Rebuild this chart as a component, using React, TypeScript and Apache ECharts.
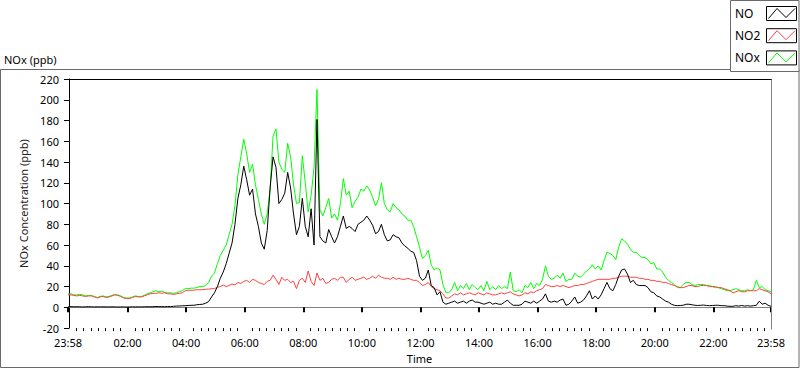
import React, { useEffect, useRef } from "react";
import * as echarts from "echarts";

// Sample times: minutes after midnight, first sample at 23:58 of the previous day, one sample every 6 minutes
const START_MIN = -2;
const STEP_MIN = 6;

// Axis ticks (minutes after midnight)
const MAJOR_TICKS = [-2, 120, 240, 360, 480, 600, 720, 840, 960, 1080, 1200, 1320, 1438];
const MINOR_STEP = 15;
const Y_MIN = -20;
const Y_MAX = 220;
const Y_STEP = 20;

const NO = [
  0.5, 0.7, 0.5, 0.6, 0.5, 0.4, 0.5, 0.6, 0.5, 0.4,
  0.5, 0.4, 0.5, 0.4, 0.4, 0.5, 0.4, 0.3, 0.4, 0.4,
  0.3, 0.4, 0.5, 0.4, 0.5, 0.4, 0.5, 0.6, 0.5, 0.6,
  0.8, 0.7, 0.7, 0.6, 0.8, 0.7, 1, 1.2, 1.3, 1.5,
  1.6, 1.8, 2, 2, 2.5, 2.8, 3, 4, 5.5, 10,
  14, 20, 28, 34, 42, 52, 62, 80, 105, 118,
  136, 123, 108, 114, 90, 78, 62, 56, 74, 115,
  145, 135, 100, 104, 110, 130, 115, 90, 70, 78,
  105, 78, 68, 95, 60, 181, 68, 64, 62, 75,
  68, 62, 68, 78, 88, 76, 78, 76, 73, 80,
  82, 84, 88, 84, 79, 71, 73, 80, 70, 64,
  65, 70, 68, 67, 62, 59, 57, 54, 53, 45,
  30, 26, 28, 36, 21, 19, 12, 15, 5, 3,
  4, 5, 6, 4, 5, 6, 4, 6, 7, 5,
  5, 4, 3, 4, 5, 3, 4, 3, 3, 5,
  7, 4, 2, 2, 2, 3, 6, 5, 4, 6,
  4, 6, 8, 13, 6, 5, 6, 5, 7, 8,
  2, 3, 6, 10, 4, 5, 7, 11, 16, 8,
  11, 8, 12, 18, 24, 18, 16, 22, 30, 36,
  37, 32, 24, 26, 22, 21, 21, 21, 19, 15,
  14, 11, 10, 8, 6, 5, 3, 2, 1.6, 1.8,
  2, 3, 3, 2.5, 2, 1.8, 2, 2.2, 1.8, 1.6,
  1.8, 2, 2, 1.6, 1.6, 1.2, 1, 1, 1.6, 1.2,
  1.8, 1.2, 1.6, 1.2, 1.6, 2, 6, 3, 4, 2,
  1,
];

const NO2 = [
  12, 12, 11.5, 11, 11.5, 11, 10.5, 11, 11, 10,
  9, 10, 10.5, 9.5, 10, 11, 12, 11.5, 10.5, 9,
  8.5, 8.5, 9.5, 10.5, 10, 10, 11, 12, 13, 13.5,
  13.5, 14, 13.5, 14, 13, 13, 12.5, 13, 13.5, 14,
  16, 16.5, 16.5, 16.5, 17, 17, 17, 17.5, 17.5, 18,
  18, 19.5, 20, 21.5, 20, 21, 22.5, 21.5, 24, 23,
  25, 26, 24, 27, 26, 24, 23, 22, 25, 26,
  31, 27, 22, 29, 26, 27, 24, 25, 18, 26,
  28, 24, 35, 25, 21, 33, 26, 28, 23, 24,
  27, 28, 26, 29, 29, 24, 27, 29, 26, 27,
  28, 29, 27, 28, 30, 28, 31, 29, 28, 28,
  27, 29, 27, 28, 27, 27, 28, 27, 26, 26,
  24, 21, 22, 24, 20, 18, 17, 16, 13, 9,
  9, 11, 13, 12, 14, 12, 13, 14, 13, 12,
  14, 13, 12, 14, 13, 12, 12, 13, 14, 13,
  14, 15, 13, 12, 11, 12, 14, 13, 15, 14,
  16, 17, 18, 22, 21, 20, 20, 21, 20, 21,
  20, 19, 20, 21, 21, 22, 22, 23, 24, 25,
  26, 27, 27, 27, 27, 27, 28, 28, 29, 30,
  30, 30, 29, 29, 29, 28, 28, 27, 27, 26,
  26, 25, 25, 24, 24, 23, 22, 21, 20, 19,
  19, 20, 21, 21, 20, 20, 21, 21, 21, 20,
  20, 20, 19, 19, 18, 17, 16, 14, 15, 16,
  15, 15, 16, 16, 16, 16, 18, 17, 16, 15,
  13,
];

const NOX = [
  13, 13, 12, 12, 12.5, 12, 11, 11.5, 11.5, 10.5,
  9.5, 10.5, 11, 10, 10.5, 11.5, 12.5, 12, 11, 9.5,
  9, 9, 10, 11, 10.5, 10.5, 11.5, 13, 14, 15,
  16, 15, 15.5, 14.5, 14, 14, 13.5, 14, 15, 16,
  18, 18, 18.5, 18.5, 19, 20, 20, 21, 24, 30,
  33, 42, 50, 55, 60, 70, 80, 98, 128, 145,
  162, 148, 130, 138, 118, 104, 90, 80, 90, 114,
  165, 172, 140, 133, 130, 158, 145, 118, 100, 101,
  146, 120, 92, 108, 135, 210, 94, 88, 96, 105,
  86, 90, 84, 100, 124, 108, 112, 96, 102, 106,
  114, 112, 117, 113, 106, 98, 104, 120, 100, 94,
  92, 100, 96, 94, 90, 88, 84, 84, 78, 68,
  58, 47, 50, 55, 41, 36, 38, 36, 22, 14,
  14, 17, 24, 16, 21, 18, 23, 17, 22, 19,
  17, 21, 16, 25, 17, 20, 17, 21, 18, 20,
  18, 34, 16, 15, 17, 14, 21, 19, 24, 18,
  23, 21, 27, 40, 30, 27, 28, 31, 28, 33,
  25, 27, 27, 33, 30, 29, 32, 35, 37, 41,
  37, 40, 36, 45, 53, 52, 50, 46, 58, 66,
  64, 61, 56, 53, 53, 50, 48, 48, 46, 42,
  43, 37, 37, 34, 29, 26, 24, 22, 19, 19,
  22, 24, 24, 22, 21, 22, 22, 22, 21, 21,
  20, 19, 19, 18, 17, 16, 16, 17, 18, 17,
  16, 16, 17, 16, 17, 26, 19, 20, 17, 16,
  15,
];

const FONT = '"Noto Sans", "Segoe UI", Tahoma, sans-serif';

function toPairs(values: number[]) {
  return values.map((v, i) => [START_MIN + i * STEP_MIN, v]);
}

function minorTicks() {
  const out: number[] = [];
  for (let m = 0; m < 1440; m += MINOR_STEP) {
    if (m % 120 !== 0) out.push(m);
  }
  return out;
}

function fmtTime(v: number) {
  let m = Math.round(v);
  m = ((m % 1440) + 1440) % 1440;
  const h = Math.floor(m / 60);
  const mm = m % 60;
  return String(h).padStart(2, "0") + ":" + String(mm).padStart(2, "0");
}

const LEGEND = [
  { name: "NO", color: "#000000" },
  { name: "NO2", color: "#ff4040" },
  { name: "NOx", color: "#00ff00" },
];

function legendGraphics() {
  const els: any[] = [];
  LEGEND.forEach((item, k) => {
    const oy = k * 22.2;
    els.push({
      type: "text",
      z: 20,
      style: {
        text: item.name,
        x: 735,
        y: 13.5 + oy,
        font: "12px " + FONT,
        fill: "#000",
        align: "left",
        verticalAlign: "middle",
        textAlign: "left",
        textVerticalAlign: "middle",
      },
    });
    els.push({
      type: "rect",
      z: 20,
      shape: { x: 766.5, y: 6.5 + oy, width: 30, height: 14 },
      style: { fill: "#fff", stroke: "#000", lineWidth: 1 },
    });
    els.push({
      type: "polyline",
      z: 21,
      shape: {
        points: [
          [768.5, 18.5 + oy],
          [777, 8.5 + oy],
          [786, 17.5 + oy],
          [795, 8.5 + oy],
        ],
      },
      style: { stroke: item.color, lineWidth: 1, fill: null },
    });
  });
  return els;
}

export default function App() {
  const ref = useRef<HTMLDivElement>(null);

  useEffect(() => {
    if (!ref.current) return;
    const chart = echarts.init(ref.current, null, { renderer: "svg" });
    const lineBase = { type: "line", showSymbol: false, symbol: "none", silent: true, animation: false };
    chart.setOption({
      animation: false,
      backgroundColor: "#ffffff",
      textStyle: { fontFamily: FONT },
      grid: { left: 68, top: 79, width: 703, height: 250, containLabel: false },
      xAxis: [
        {
          type: "value",
          min: -2,
          max: 1438,
          position: "bottom",
          name: "Time",
          nameLocation: "middle",
          nameGap: 24,
          nameTextStyle: { fontSize: 11, color: "#000", fontFamily: FONT },
          axisLine: { show: true, lineStyle: { color: "#808080", width: 1 } },
          axisTick: {
            show: true,
            customValues: MAJOR_TICKS,
            length: 5,
            lineStyle: { color: "#000", width: 2 },
          },
          axisLabel: {
            show: true,
            customValues: MAJOR_TICKS,
            formatter: (v: number) => fmtTime(v),
            fontSize: 11,
            color: "#000",
            margin: 9,
            fontFamily: FONT,
            showMinLabel: true,
            showMaxLabel: true,
          },
          splitLine: { show: false },
        },
        {
          type: "value",
          min: -2,
          max: 1438,
          position: "bottom",
          axisLine: { show: false },
          axisTick: {
            show: true,
            customValues: minorTicks(),
            length: 3,
            lineStyle: { color: "#000", width: 1 },
          },
          axisLabel: { show: false },
          splitLine: { show: false },
        },
      ],
      yAxis: {
        type: "value",
        min: Y_MIN,
        max: Y_MAX,
        interval: Y_STEP,
        name: "NOx Concentration (ppb)",
        nameLocation: "middle",
        nameGap: 28,
        nameRotate: 90,
        nameTextStyle: { fontSize: 11, color: "#222222", fontFamily: FONT },
        axisLine: { show: true, lineStyle: { color: "#000", width: 1 } },
        axisTick: { show: true, length: 5, lineStyle: { color: "#000", width: 1 } },
        axisLabel: { fontSize: 11, color: "#000", margin: 9, fontFamily: FONT },
        splitLine: { show: false },
      },
      series: [
        { ...lineBase, name: "NOx", data: toPairs(NOX), z: 2, lineStyle: { color: "#00ff00", width: 1 } },
        { ...lineBase, name: "NO2", data: toPairs(NO2), z: 3, lineStyle: { color: "#ff4040", width: 1 } },
        { ...lineBase, name: "NO", data: toPairs(NO), z: 4, lineStyle: { color: "#000000", width: 1 } },
      ],
      graphic: [
        {
          type: "rect",
          z: 10,
          shape: { x: 0.5, y: 69.5, width: 798.5, height: 298 },
          style: { fill: null, stroke: "#6a6a6a", lineWidth: 1 },
        },
        {
          type: "rect",
          z: 15,
          shape: { x: 730.5, y: 0.5, width: 68.5, height: 71 },
          style: { fill: "#fff", stroke: "#6a6a6a", lineWidth: 1 },
        },
        {
          type: "line",
          z: 10,
          shape: { x1: 68, y1: 79.5, x2: 772, y2: 79.5 },
          style: { stroke: "#000", lineWidth: 1 },
        },
        {
          type: "line",
          z: 10,
          shape: { x1: 771.5, y1: 79.5, x2: 771.5, y2: 329.5 },
          style: { stroke: "#808080", lineWidth: 1 },
        },
        {
          type: "text",
          z: 10,
          style: {
            text: "NOx (ppb)",
            x: 4,
            y: 59,
            font: "11px " + FONT,
            fill: "#000",
            align: "left",
            verticalAlign: "middle",
            textAlign: "left",
            textVerticalAlign: "middle",
          },
        },
        ...legendGraphics(),
      ],
    });
    return () => chart.dispose();
  }, []);

  return (
    <div
      ref={ref}
      style={{ position: "fixed", left: 0, top: 0, width: 800, height: 369, background: "#fff" }}
    />
  );
}
